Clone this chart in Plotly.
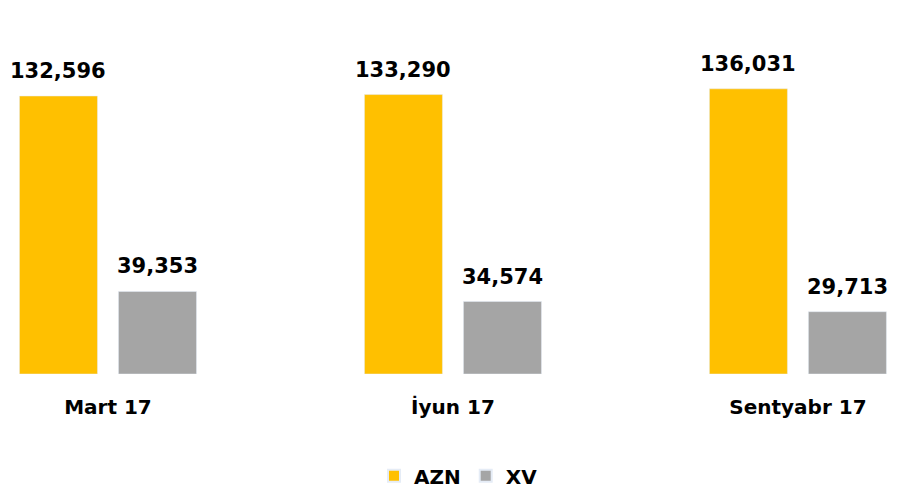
import plotly.graph_objects as go

periods = ["Mart 17", "İyun 17", "Sentyabr 17"]
azn = [132596, 133290, 136031]
xv = [39353, 34574, 29713]

YELLOW = "#FFC000"
GREY = "#A5A5A5"
FONT = "DejaVu Sans"

fig = go.Figure()
fig.add_trace(go.Bar(x=periods, y=azn, name="AZN", marker_color=YELLOW))
fig.add_trace(go.Bar(x=periods, y=xv, name="XV", marker_color=GREY))

# value labels above the bars
for series, shift in ((azn, -49.5), (xv, 49.5)):
    for p, v in zip(periods, series):
        fig.add_annotation(
            x=p, y=v, text=f"<b>{v:,}</b>", showarrow=False,
            xshift=shift, yshift=11, yanchor="bottom",
            font=dict(family=FONT, size=21, color="black"),
        )

fig.update_layout(
    width=899, height=488,
    margin=dict(l=0, r=0, t=0, b=114),
    paper_bgcolor="white", plot_bgcolor="white",
    barmode="group", bargap=0.426, bargroupgap=0.212,
    showlegend=True,
    legend=dict(
        orientation="h", x=0.51, xanchor="center",
        yref="container", y=0.025, yanchor="middle",
        font=dict(family=FONT, size=20, color="black", weight="bold"),
        itemsizing="constant",
    ),
    xaxis=dict(
        range=[-0.313, 2.293], showline=False, showgrid=False,
        ticks="", ticklabelstandoff=19, automargin=False,
        tickfont=dict(family=FONT, size=20, color="black", weight="bold"),
    ),
    yaxis=dict(range=[0, 178383], visible=False, automargin=False),
)

fig.write_html("out.html", config={"displayModeBar": False},
               post_script="document.body.style.margin='0';")
